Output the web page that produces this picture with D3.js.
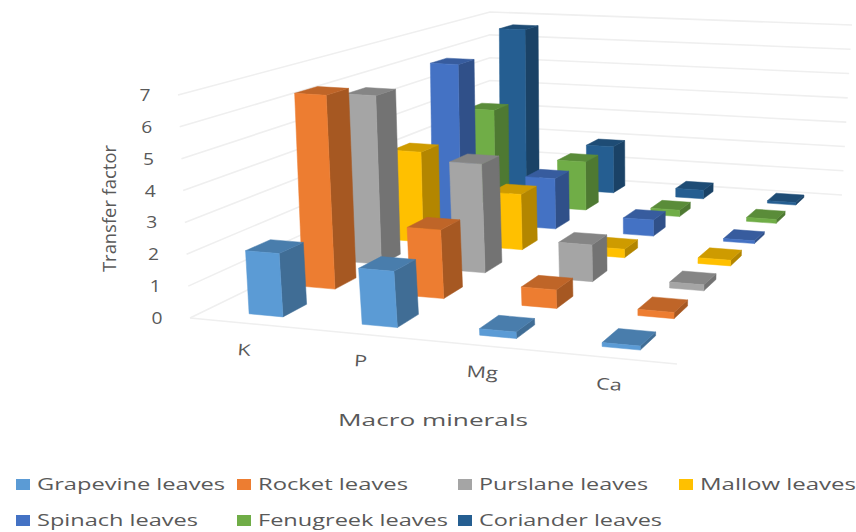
<!DOCTYPE html>
<html>
<head>
<meta charset="utf-8">
<script src="https://cdn.jsdelivr.net/npm/d3@7/dist/d3.min.js"></script>
<style>
html,body{margin:0;padding:0;background:#fff}
text{font-family:"Open Sans",sans-serif;fill:#595959}
</style>
</head>
<body>
<svg id="chart" width="856" height="532"></svg>
<script>
const minerals = ["K", "P", "Mg", "Ca"];
const seriesNames = ["Grapevine leaves", "Rocket leaves", "Purslane leaves", "Mallow leaves", "Spinach leaves", "Fenugreek leaves", "Coriander leaves"];
const grapevine = [2.0, 1.75, 0.2, 0.12];
const rocket = [6.45, 2.25, 0.6, 0.2];
const purslane = [5.9, 3.75, 1.25, 0.2];
const mallow = [3.3, 2.0, 0.3, 0.2];
const spinach = [6.05, 1.9, 0.6, 0.1];
const fenugreek = [3.75, 1.9, 0.25, 0.15];
const coriander = [6.6, 1.9, 0.35, 0.1];
const seriesValues = [grapevine, rocket, purslane, mallow, spinach, fenugreek, coriander];
const seriesColors = ["#5B9BD5", "#ED7D31", "#A5A5A5", "#FFC000", "#4472C4", "#70AD47", "#255E91"];
const valueTicks = [0, 1, 2, 3, 4, 5, 6, 7];

// Camera: corners of the floor and of the plane at the top of the value axis
const floorQuad = [[190, 318], [677, 364], [842, 195], [490, 172]];
const topQuad = [[178, 95], [682, 130], [852, 25], [490, 12]];

// Unit square to quadrilateral perspective map
function squareToQuad(q) {
  const [[x0, y0], [x1, y1], [x2, y2], [x3, y3]] = q;
  const dx1 = x1 - x2, dx2 = x3 - x2, sx = x0 - x1 + x2 - x3;
  const dy1 = y1 - y2, dy2 = y3 - y2, sy = y0 - y1 + y2 - y3;
  const det = dx1 * dy2 - dx2 * dy1;
  const g = (sx * dy2 - dx2 * sy) / det;
  const h = (dx1 * sy - sx * dy1) / det;
  const a = x1 - x0 + g * x1, b = x3 - x0 + h * x3, c = x0;
  const d = y1 - y0 + g * y1, e = y3 - y0 + h * y3, f = y0;
  return (s, t) => {
    const w = g * s + h * t + 1;
    return [(a * s + b * t + c) / w, (d * s + e * t + f) / w];
  };
}
const floorMap = squareToQuad(floorQuad);
const topMap = squareToQuad(topQuad);

const uScale = d3.scaleLinear().domain([0, minerals.length]).range([0, 1]);
const vScale = d3.scaleLinear().domain([0, seriesNames.length]).range([0, 1]);
const hScale = d3.scaleLinear().domain([0, 7]).range([0, 1]);
// Category slots sit slightly tighter than the floor's full width
const slotScale = d3.scaleLinear().domain([0, minerals.length]).range([0, 3.95]);

function project(u, v, value) {
  const s = uScale(u), t = vScale(v), k = hScale(value);
  const p0 = floorMap(s, t), p1 = topMap(s, t);
  return [p0[0] + (p1[0] - p0[0]) * k, p0[1] + (p1[1] - p0[1]) * k];
}

const svg = d3.select("#chart");
const polyLine = d3.line();

// Wall and floor rules
const grid = svg.append("g").attr("fill", "none").attr("stroke", "#efefef").attr("stroke-width", 1.6);
valueTicks.forEach(t => {
  grid.append("path").attr("d", polyLine([project(0, 0, t), project(0, 7, t), project(4, 7, t)]));
});
grid.append("path").attr("d", polyLine([project(0, 0, 0), project(4, 0, 0)]));

// Bars are painted from the back row forward and right to left
const barStartU = 0.38, barEndU = 0.68, barStartV = 0.28, barEndV = 0.72;
const shade = (c, k) => d3.rgb(c).darker(k).formatHex();
const bars = svg.append("g");
d3.range(seriesNames.length - 1, -1, -1).forEach(s => {
  d3.range(minerals.length - 1, -1, -1).forEach(c => {
    const val = seriesValues[s][c], col = seriesColors[s];
    const u0 = slotScale(c) + barStartU, u1 = slotScale(c) + barEndU, v0 = s + barStartV, v1 = s + barEndV;
    const face = (pts, fill) => bars.append("path")
      .attr("d", polyLine(pts) + "Z").attr("fill", fill).attr("stroke", fill).attr("stroke-width", 0.5);
    face([project(u1, v0, 0), project(u1, v1, 0), project(u1, v1, val), project(u1, v0, val)], shade(col, 1.0));
    face([project(u0, v0, val), project(u1, v0, val), project(u1, v1, val), project(u0, v1, val)], shade(col, 0.6));
    face([project(u0, v0, 0), project(u1, v0, 0), project(u1, v0, val), project(u0, v0, val)], col);
  });
});

// Stretch a label to the width it occupies on the page
function label(x, y, str, size, width, attrs) {
  const t = svg.append("text").attr("x", x).attr("y", y).attr("font-size", size).text(str);
  if (width) t.attr("textLength", width).attr("lengthAdjust", "spacingAndGlyphs");
  if (attrs) Object.entries(attrs).forEach(([k, v]) => t.attr(k, v));
  return t;
}

// Value axis
valueTicks.forEach(t => {
  const p = project(0, 0, t);
  label(p[0] - 33, p[1] + 6, String(t), 16, 11, {"text-anchor": "middle"});
});

// Category axis
minerals.forEach((m, i) => {
  const p = project(i + 0.5, 0, 0);
  svg.append("text").attr("text-anchor", "middle").attr("font-size", 16)
    .attr("transform", `translate(${p[0] - 3},${p[1] + 32}) rotate(4) scale(1.35,1)`).text(m);
});

// Axis titles
label(338, 426, "Macro minerals", 17, 190);
svg.append("text").attr("font-size", 18)
  .attr("transform", "translate(116,272) rotate(-90)")
  .attr("textLength", 127).attr("lengthAdjust", "spacingAndGlyphs").text("Transfer factor");

// Legend
const legendX = d3.scalePoint().domain(d3.range(4)).range([16, 679]);
const legendY = d3.scalePoint().domain([0, 1]).range([479, 515]);
const legendWidths = [188, 150, 169, 156, 161, 190, 183];
seriesNames.forEach((name, i) => {
  const col = i % 4, row = Math.floor(i / 4);
  svg.append("rect").attr("x", legendX(col)).attr("y", legendY(row))
    .attr("width", 14).attr("height", 11).attr("fill", seriesColors[i]);
  label(legendX(col) + 21, legendY(row) + 11, name, 16, legendWidths[i]);
});
</script>
</body>
</html>
